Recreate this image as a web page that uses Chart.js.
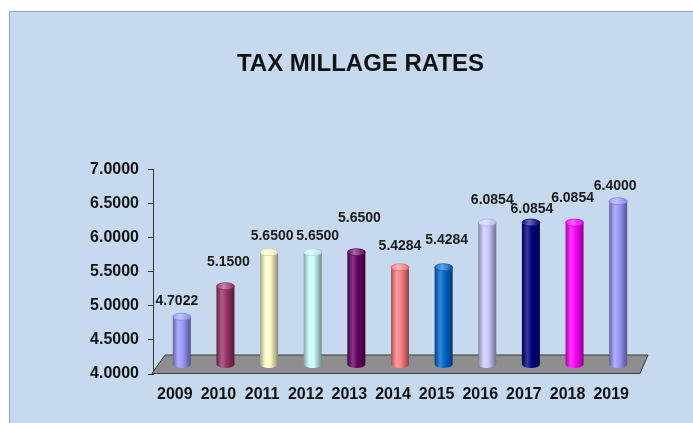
<!DOCTYPE html>
<html>
<head>
<meta charset="utf-8">
<title>Tax Millage Rates</title>
<script src="https://cdn.jsdelivr.net/npm/chart.js@4.4.1/dist/chart.umd.min.js"></script>
<style>
  html, body { margin: 0; padding: 0; background: #ffffff; }
  #chart { display: block; }
</style>
</head>
<body>
<canvas id="chart" width="693" height="423"></canvas>
<script>
// Millage rate per year
const years = ['2009', '2010', '2011', '2012', '2013', '2014', '2015', '2016', '2017', '2018', '2019'];
const rates = [4.7022, 5.1500, 5.6500, 5.6500, 5.6500, 5.4284, 5.4284, 6.0854, 6.0854, 6.0854, 6.4000];
const yTickValues = [4.0, 4.5, 5.0, 5.5, 6.0, 6.5, 7.0];

// One colour per cylinder
const barColors = ['#9999ff', '#993366', '#ffffcc', '#ccffff', '#660066', '#ff8080',
                   '#0066cc', '#ccccff', '#000080', '#ff00ff', '#9999ff'];
// Small hand nudges for the value labels [dx, dy] in pixels
const labelNudge = [[-5, 0], [3, -8], [3, 0], [5, 0], [3, -18], [0, -5],
                    [3, -11], [5, -6], [1, 3], [-2, -8], [-3, 1]];

const FONT = '"Liberation Sans", Arial, sans-serif';
const DEPTH_X = 12, DEPTH_Y = 19;   // floor depth of the pseudo-3D plot

function hexToRgb(h) {
  const n = parseInt(h.slice(1), 16);
  return [(n >> 16) & 255, (n >> 8) & 255, n & 255];
}
function shade(h, t) {
  const [r, g, b] = hexToRgb(h);
  const f = c => Math.round(t >= 0 ? c + (255 - c) * t : c * (1 + t));
  return `rgb(${f(r)},${f(g)},${f(b)})`;
}

function drawCylinder(ctx, cx, top, bottom, w, color) {
  const rx = w / 2, ry = 3.5;
  const g = ctx.createLinearGradient(cx - rx, 0, cx + rx, 0);
  g.addColorStop(0, shade(color, -0.35));
  g.addColorStop(0.3, shade(color, 0.22));
  g.addColorStop(0.55, color);
  g.addColorStop(1, shade(color, -0.45));
  ctx.save();
  ctx.fillStyle = g;
  ctx.beginPath();
  ctx.moveTo(cx - rx, top);
  ctx.lineTo(cx - rx, bottom);
  ctx.ellipse(cx, bottom, rx, ry, 0, Math.PI, 0, true);
  ctx.lineTo(cx + rx, top);
  ctx.ellipse(cx, top, rx, ry, 0, 0, Math.PI, true);
  ctx.closePath();
  ctx.fill();
  // top cap
  const cg = ctx.createLinearGradient(cx - rx, 0, cx + rx, 0);
  cg.addColorStop(0, shade(color, 0.05));
  cg.addColorStop(0.4, shade(color, 0.4));
  cg.addColorStop(1, shade(color, -0.1));
  ctx.fillStyle = cg;
  ctx.beginPath();
  ctx.ellipse(cx, top, rx, ry, 0, 0, Math.PI * 2);
  ctx.fill();
  ctx.strokeStyle = shade(color, -0.2);
  ctx.lineWidth = 0.6;
  ctx.stroke();
  ctx.restore();
}

const panelPlugin = {
  id: 'panel',
  beforeDraw(chart) {
    const ctx = chart.ctx;
    ctx.save();
    ctx.fillStyle = '#ffffff';
    ctx.fillRect(0, 0, chart.width, chart.height);
    ctx.fillStyle = '#c6d9ef';
    ctx.fillRect(9, 11, chart.width - 9, chart.height - 11);
    ctx.strokeStyle = '#98a6b8';
    ctx.lineWidth = 1;
    ctx.beginPath();
    ctx.moveTo(9.5, chart.height);
    ctx.lineTo(9.5, 11.5);
    ctx.lineTo(chart.width, 11.5);
    ctx.stroke();
    ctx.restore();
  }
};

const cylinderPlugin = {
  id: 'cylinders',
  beforeDatasetsDraw(chart) {
    // grey floor parallelogram
    const { ctx, chartArea: a } = chart;
    ctx.save();
    ctx.fillStyle = '#8e8e8e';
    ctx.strokeStyle = '#3a3a3a';
    ctx.lineWidth = 1;
    ctx.beginPath();
    ctx.moveTo(a.left - 1, a.bottom - 0.5);
    ctx.lineTo(a.right + 7, a.bottom - 0.5);
    ctx.lineTo(a.right + 15, a.bottom - DEPTH_Y);
    ctx.lineTo(a.left + DEPTH_X, a.bottom - DEPTH_Y);
    ctx.closePath();
    ctx.fill();
    ctx.stroke();
    ctx.restore();
  },
  afterDatasetsDraw(chart) {
    const ctx = chart.ctx;
    const yScale = chart.scales.y;
    const basePx = yScale.getPixelForValue(yScale.min);
    const meta = chart.getDatasetMeta(0);
    meta.data.forEach((bar, i) => {
      const cx = bar.x + DEPTH_X / 2 + 1;
      const top = bar.y - DEPTH_Y / 2;
      const bottom = basePx - DEPTH_Y / 2;
      drawCylinder(ctx, cx, top, bottom, bar.width, barColors[i]);
    });
    ctx.save();
    ctx.font = `bold 14px ${FONT}`;
    ctx.fillStyle = '#1a1a1a';
    ctx.textAlign = 'center';
    ctx.textBaseline = 'middle';
    meta.data.forEach((bar, i) => {
      const cx = bar.x + DEPTH_X / 2 + 1 + labelNudge[i][0];
      const cy = bar.y - DEPTH_Y / 2 - 16 + labelNudge[i][1];
      ctx.fillText(rates[i].toFixed(4), cx, cy);
    });
    ctx.restore();
  }
};

new Chart(document.getElementById('chart'), {
  type: 'bar',
  data: {
    labels: years,
    datasets: [{
      label: 'Millage rate',
      data: rates,
      base: 4,
      backgroundColor: 'rgba(0,0,0,0)',
      borderWidth: 0,
      barThickness: 18
    }]
  },
  options: {
    responsive: false,
    animation: false,
    devicePixelRatio: 1,
    layout: { padding: { top: 12, left: 88, right: 60, bottom: 8 } },
    plugins: {
      legend: { display: false },
      tooltip: { enabled: false },
      title: {
        display: true,
        text: 'TAX MILLAGE RATES',
        color: '#111111',
        font: { family: FONT, size: 24, weight: 'bold' },
        padding: { top: 38, bottom: 91 }
      }
    },
    scales: {
      x: {
        offset: true,
        grid: { display: false, drawTicks: false },
        border: { display: false },
        ticks: {
          color: '#111111',
          padding: 11,
          font: { family: FONT, size: 16, weight: 'bold' }
        },
        afterFit(s) { s.height = 41; }
      },
      y: {
        min: 4,
        max: 7,
        grid: { drawOnChartArea: false, drawTicks: true, tickLength: 5, color: '#333333' },
        border: { display: true, color: '#333333', width: 1 },
        afterBuildTicks(s) { s.ticks = yTickValues.map(v => ({ value: v })); },
        ticks: {
          color: '#111111',
          padding: 9,
          font: { family: FONT, size: 16, weight: 'bold' },
          callback: v => Number(v).toFixed(4)
        },
        afterFit(s) { s.width = 65; }
      }
    }
  },
  plugins: [panelPlugin, cylinderPlugin]
});
</script>
</body>
</html>
